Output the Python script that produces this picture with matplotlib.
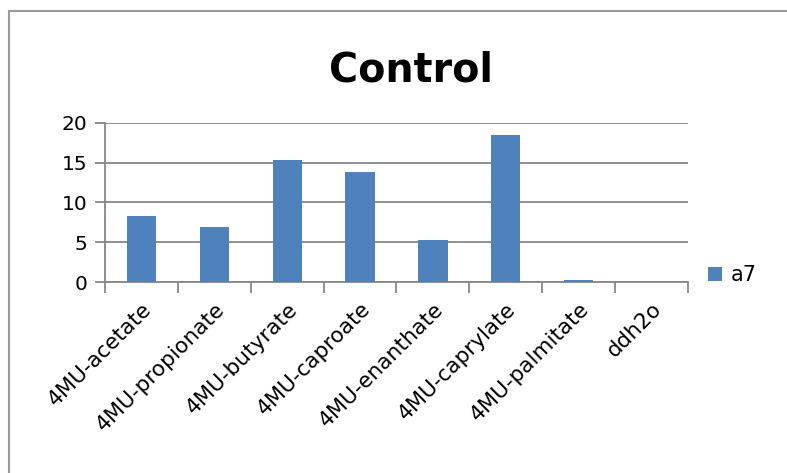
import numpy as np
import matplotlib.pyplot as plt
from matplotlib.patches import Rectangle

# data
kategori = ['4MU-acetate', '4MU-propionate', '4MU-butyrate', '4MU-caproate',
            '4MU-enanthate', '4MU-caprylate', '4MU-palmitate', 'ddh2o']
nilai_a7 = [8.3, 6.9, 15.3, 13.8, 5.25, 18.5, 0.3, 0.0]
yticks = [0, 5, 10, 15, 20]

warna = '#4F81BD'
abu = '#878787'

fig = plt.figure(figsize=(7.87, 4.73), dpi=100)
ax = fig.add_axes([0.1334, 0.4038, 0.7408, 0.3362])

x = np.arange(len(kategori))
ax.bar(x, nilai_a7, width=0.4, color=warna, label='a7', zorder=3)

ax.set_xlim(-0.5, len(kategori) - 0.5)
ax.set_ylim(0, 20)
ax.set_yticks(yticks)
ax.yaxis.grid(True, color=abu, linewidth=1.3, zorder=0)
ax.tick_params(axis='y', labelsize=14.5, length=7.5, color=abu, width=1.3, pad=5)

# tick marks on category borders, labels at the middle
ax.set_xticks(x)
ax.set_xticklabels(kategori, rotation=45, ha='right', rotation_mode='anchor', fontsize=15.5)
ax.tick_params(axis='x', which='major', length=0, pad=12)
ax.set_xticks(np.arange(-0.5, len(kategori)), minor=True)
ax.tick_params(axis='x', which='minor', length=8, color=abu, width=1.3)

for s in ['top', 'right']:
    ax.spines[s].set_visible(False)
for s in ['left', 'bottom']:
    ax.spines[s].set_color(abu)
    ax.spines[s].set_linewidth(1.3)

fig.text(0.522, 0.852, 'Control', ha='center', va='center', fontsize=28.5, fontweight='bold')

fig.legend(loc='center left', bbox_to_anchor=(0.876, 0.418), frameon=False,
           fontsize=15, handlelength=0.65, handleheight=0.65, handletextpad=0.45)

# frame around the whole chart (right and bottom edges fall outside the picture)
fig.patches.append(Rectangle((0.0115, -0.05), 1.05, 1.027, transform=fig.transFigure,
                             fill=False, edgecolor='#999999', linewidth=1.5))

plt.savefig('out.png', dpi=100)
